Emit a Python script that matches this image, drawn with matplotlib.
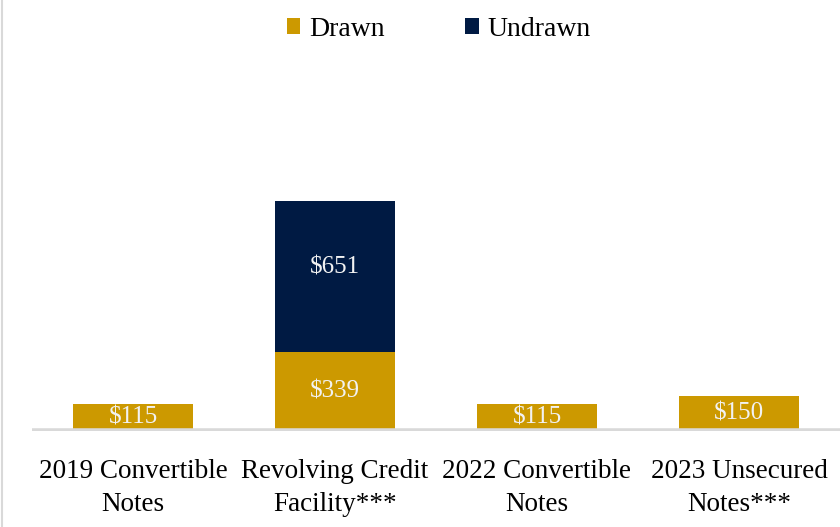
import matplotlib
matplotlib.use("Agg")
import matplotlib.pyplot as plt
import numpy as np

plt.rcParams.update({
    'font.family': ['Liberation Serif', 'DejaVu Serif'],
    'font.size': 19.5,
})

categories = ['2019 Convertible\nNotes', 'Revolving Credit\nFacility***',
              '2022 Convertible\nNotes', '2023 Unsecured\nNotes***']
drawn = [115, 339, 115, 150]
undrawn = [0, 651, 0, 0]

gold = '#CC9900'
navy = '#001A43'

fig = plt.figure(figsize=(8.4, 5.27), dpi=100)
ax = fig.add_axes([32 / 840, (527 - 431) / 527, 1 - 32 / 840, 431 / 527])

x = np.arange(len(categories))
width = 0.59
b1 = ax.bar(x, drawn, width, color=gold, label='Drawn', zorder=2)
b2 = ax.bar(x, undrawn, width, bottom=drawn, color=navy, label='Undrawn', zorder=2)

for rect, v in zip(b1, drawn):
    ax.text(rect.get_x() + rect.get_width() / 2, v / 2, f'${v}',
            ha='center', va='center', color='#F2F2F2', fontsize=18, zorder=3)
for rect, v, d in zip(b2, undrawn, drawn):
    if v > 0:
        ax.text(rect.get_x() + rect.get_width() / 2, d + v / 2 + 40, f'${v}',
                ha='center', va='center', color='#F2F2F2', fontsize=18, zorder=3)

ax.set_xlim(-0.5, len(categories) - 0.5)
ax.set_ylim(0, 431 / 0.232)
ax.axhline(0, color='#D9D9D9', linewidth=4, zorder=4)

ax.set_xticks(x)
ax.set_xticklabels(categories, linespacing=1.45)
ax.tick_params(axis='x', length=0, pad=20)
ax.set_yticks([])
for s in ax.spines.values():
    s.set_visible(False)

fig.add_artist(plt.Line2D([2 / 840, 2 / 840], [0, 1], color='#D9D9D9', linewidth=1.5))

fig.legend(loc='upper center', bbox_to_anchor=(0.522, 1.016), ncol=2, frameon=False,
           handlelength=0.5, handleheight=0.5, handletextpad=0.3, columnspacing=2.9,
           fontsize=20)

plt.savefig('out.png', dpi=100)
